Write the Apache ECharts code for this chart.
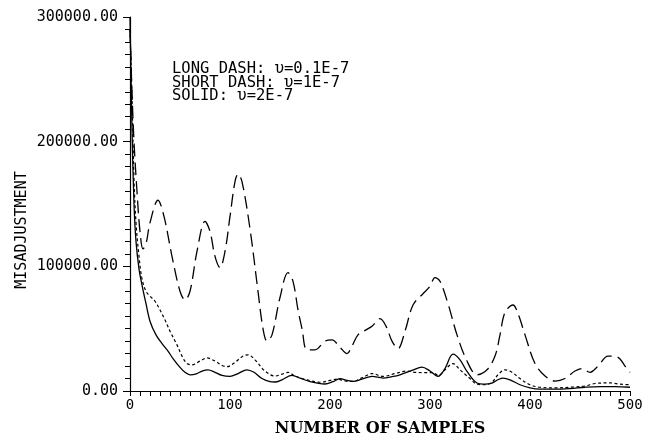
<!DOCTYPE html>
<html>
<head>
<meta charset="utf-8">
<script src="https://cdn.jsdelivr.net/npm/echarts@6/dist/echarts.min.js"></script>
<style>
  html, body { margin: 0; padding: 0; background: #fff; }
  #chart { width: 650px; height: 442px; }
</style>
</head>
<body>
<div id="chart"></div>
<script>
// Misadjustment vs number of samples, three step sizes

// long dash: u = 0.1E-7
const longX = [0, 2, 4, 7, 10, 13, 16, 20, 28, 34, 42, 50, 55, 60, 67, 75, 80, 85, 90, 95,
  100, 105, 108, 112, 120, 128, 133, 137, 142, 150, 158, 163, 168, 172, 177, 185, 195, 202,
  210, 217, 222, 228, 236, 242, 250, 256, 262, 268, 275, 283, 293, 300, 305, 310, 318, 327,
  337, 347, 357, 365, 370, 375, 383, 388, 395, 405, 415, 425, 435, 445, 452, 460, 468, 478,
  488, 495, 500];
const longY = [290000, 240000, 200000, 160000, 128000, 114000, 118000, 135000, 153000, 140000,
  108000, 80000, 73000, 80000, 112000, 136000, 128000, 108000, 99000, 112000,
  140000, 168000, 174000, 168000, 130000, 80000, 50000, 40000, 45000, 75000, 95000, 88000,
  65000, 50000, 33000, 33000, 40000, 41000, 35000, 30000, 36000, 45000, 49000, 52000, 58000,
  52000, 40000, 34000, 48000, 69000, 78000, 84000, 91000, 88000, 70000, 45000, 24000, 13000,
  17000, 28000, 45000, 63000, 69000, 62000, 45000, 22000, 12000, 8000, 10000, 16000, 18000,
  15000, 20000, 28000, 27000, 20000, 15000];

// short dash: u = 1E-7
const shortX = [0, 2, 4, 6, 9, 12, 16, 20, 25, 30, 35, 40, 47, 52, 57, 62, 70, 77, 85, 92, 97,
  105, 112, 118, 125, 135, 145, 152, 158, 165, 177, 190, 200, 207, 215, 223, 233, 242, 253,
  265, 277, 285, 293, 303, 308, 315, 323, 330, 340, 347, 355, 362, 368, 375, 382, 390, 400,
  410, 425, 440, 455, 465, 480, 490, 500];
const shortY = [290000, 235000, 170000, 135000, 108000, 90000, 80000, 76000, 72000, 65000,
  57000, 48000, 37000, 28000, 22000, 21000, 24000, 26500, 24000, 20500, 19500, 23000, 27500,
  29000, 25000, 16000, 12000, 13500, 15000, 12000, 9000, 7000, 8500, 9500, 8000, 7700, 11000,
  14000, 11700, 14000, 16000, 15000, 14800, 14800, 12500, 17000, 22000, 17000, 10000, 5500,
  5000, 7000, 13000, 17000, 15000, 10000, 5000, 3000, 2500, 3000, 4000, 6000, 6500, 5500, 5000];

// solid: u = 2E-7
const solidX = [0, 2, 4, 6, 9, 12, 16, 20, 26, 33, 38, 43, 50, 55, 60, 67, 72, 78, 85, 92, 100,
  108, 117, 124, 132, 140, 145, 152, 162, 170, 180, 195, 203, 210, 217, 223, 232, 242, 253,
  262, 270, 282, 292, 300, 308, 315, 323, 330, 337, 347, 355, 362, 368, 373, 380, 390, 400,
  410, 425, 440, 455, 470, 485, 500];
const solidY = [300000, 210000, 150000, 120000, 98000, 85000, 70000, 56000, 45000, 37000,
  32000, 26000, 19000, 15000, 13000, 14000, 16000, 17000, 15000, 12500, 11700, 14000, 17000,
  15000, 10000, 7500, 7200, 9000, 12500, 10400, 7500, 5600, 7500, 10000, 8500, 7700, 9500,
  11700, 10400, 11500, 13000, 16500, 19200, 16000, 11700, 18000, 29500, 25000, 15700, 6400,
  5500, 6400, 9000, 10400, 9000, 5000, 2500, 1500, 1500, 2000, 3000, 3500, 3500, 3000];

const legendLines = [
  "LONG DASH: \u03c5=0.1E-7",
  "SHORT DASH: \u03c5=1E-7",
  "SOLID: \u03c5=2E-7"
];

function pairs(xs, ys) {
  return xs.map((x, i) => [x, ys[i]]);
}

const chart = echarts.init(document.getElementById("chart"), null, { renderer: "canvas" });

const monoFont = "'DejaVu Sans Mono', monospace";

const option = {
  animation: false,
  backgroundColor: "#fff",
  grid: { left: 130, right: 20, top: 17, bottom: 49 },
  xAxis: {
    type: "value",
    min: 0,
    max: 500,
    interval: 100,
    name: "NUMBER OF SAMPLES",
    nameLocation: "middle",
    nameGap: 30,
    nameTextStyle: { color: "#000", fontFamily: "'DejaVu Serif', serif", fontWeight: "bold", fontSize: 16 },
    axisLine: { lineStyle: { color: "#000", width: 1.2 } },
    axisTick: { length: 5, lineStyle: { color: "#000" } },
    minorTick: { show: true, splitNumber: 10, length: 5, lineStyle: { color: "#000" } },
    splitLine: { show: false },
    axisLabel: { color: "#000", fontFamily: monoFont, fontSize: 14, margin: 7 }
  },
  yAxis: {
    type: "value",
    min: 0,
    max: 300000,
    interval: 100000,
    axisLine: { show: true, lineStyle: { color: "#000", width: 1.2 } },
    axisTick: { show: true, length: 7, lineStyle: { color: "#000" } },
    minorTick: { show: true, splitNumber: 10, length: 5, lineStyle: { color: "#000" } },
    splitLine: { show: false },
    axisLabel: {
      color: "#000",
      fontFamily: monoFont,
      fontSize: 15,
      margin: 12,
      formatter: (v) => v.toFixed(2)
    }
  },
  graphic: [
    {
      type: "text",
      left: 172,
      top: 61,
      style: {
        text: legendLines.join("\n"),
        fill: "#000",
        font: "15.5px 'DejaVu Sans Mono', monospace",
        lineHeight: 13.5
      }
    },
    {
      type: "text",
      x: 22,
      y: 230,
      rotation: Math.PI / 2,
      style: {
        text: "MISADJUSTMENT",
        fill: "#000",
        font: "15px 'DejaVu Sans Mono', monospace",
        align: "center",
        verticalAlign: "middle"
      }
    }
  ],
  series: [
    {
      name: "LONG DASH",
      type: "line",
      data: pairs(longX, longY),
      showSymbol: false,
      smooth: 0.35,
      lineStyle: { color: "#000", width: 1.3, type: [13, 6] }
    },
    {
      name: "SHORT DASH",
      type: "line",
      data: pairs(shortX, shortY),
      showSymbol: false,
      smooth: 0.35,
      lineStyle: { color: "#000", width: 1.2, type: [3, 2.5] }
    },
    {
      name: "SOLID",
      type: "line",
      data: pairs(solidX, solidY),
      showSymbol: false,
      smooth: 0.35,
      lineStyle: { color: "#000", width: 1.3 }
    }
  ]
};

chart.setOption(option);

window.addEventListener("resize", function () {
  chart.resize();
});
</script>
</body>
</html>
